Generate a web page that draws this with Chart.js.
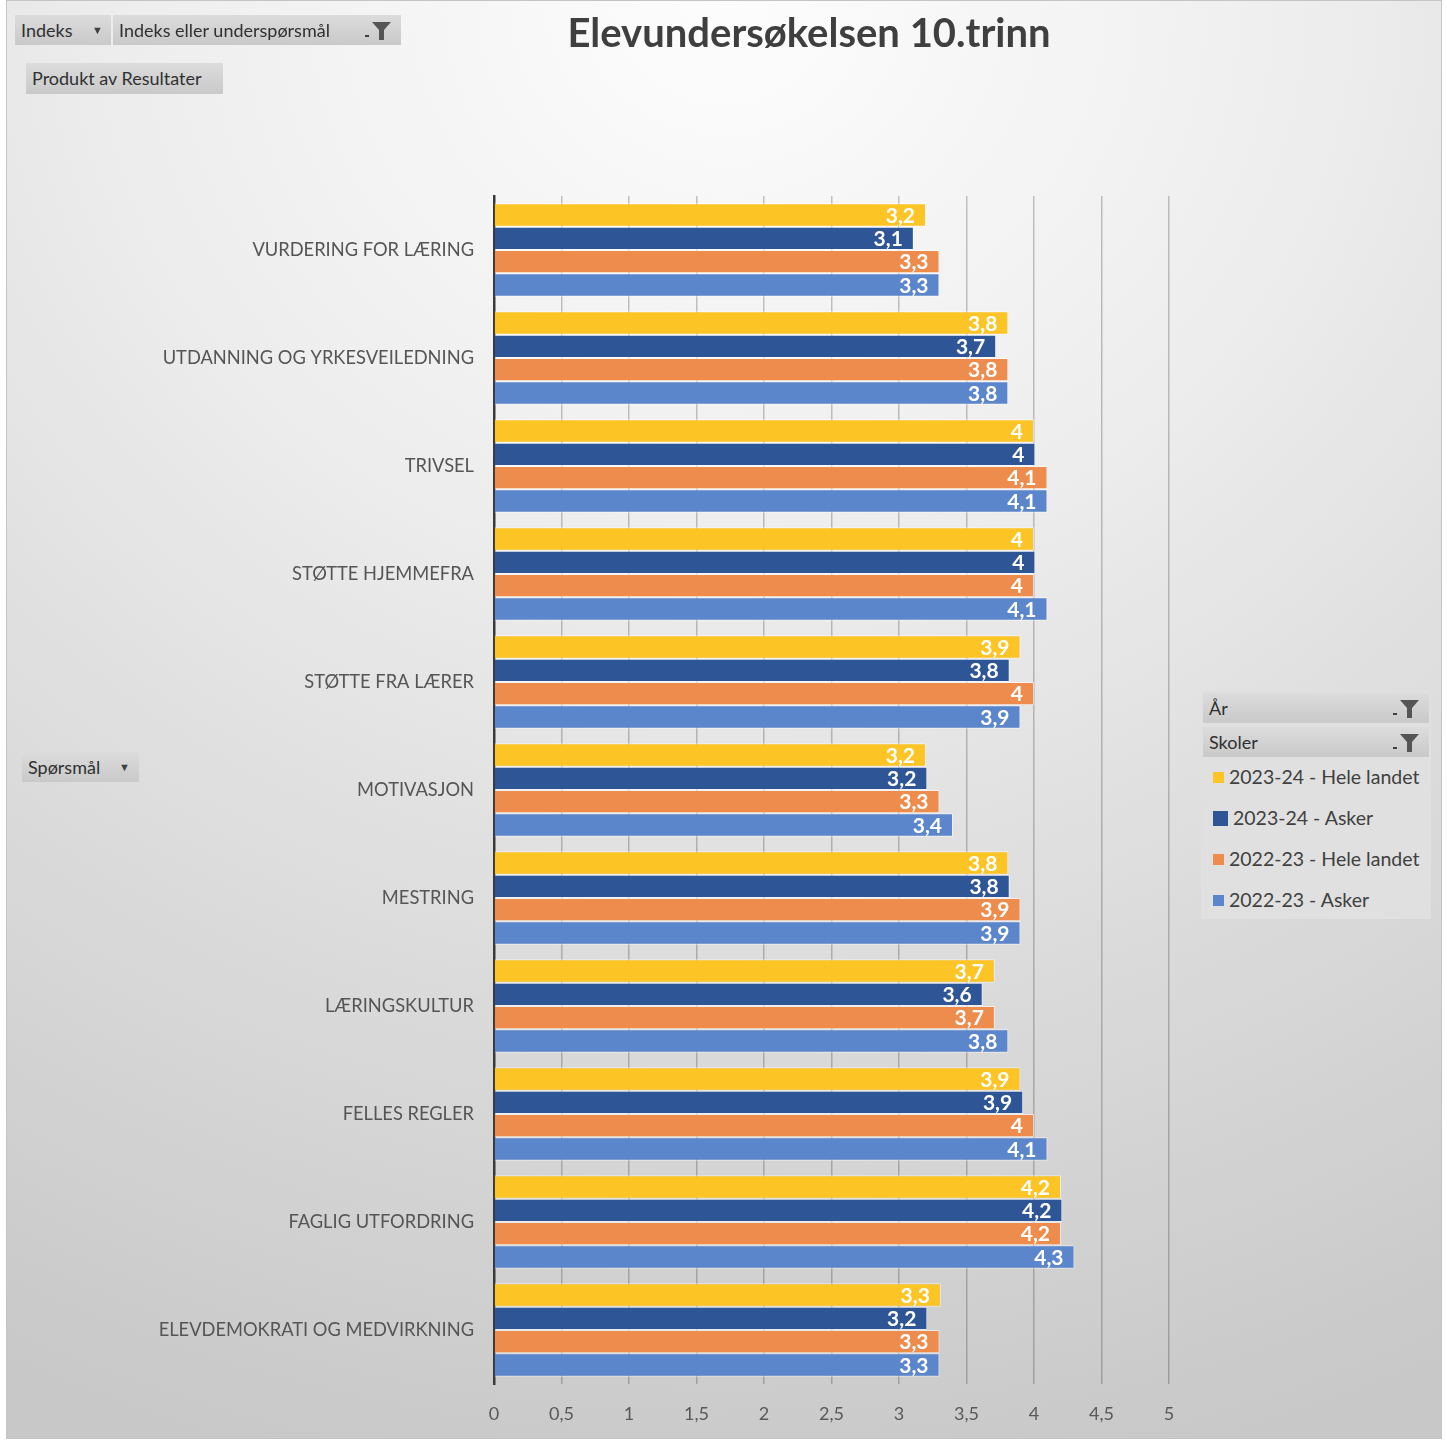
<!DOCTYPE html>
<html>
<head>
<meta charset="utf-8">
<script src="https://cdn.jsdelivr.net/npm/chart.js@4/dist/chart.umd.min.js"></script>
<style>
  html, body { margin: 0; padding: 0; background: #ffffff; }
  body { width: 1447px; height: 1441px; position: relative; overflow: hidden; font-family: Lato, "Open Sans", sans-serif; }
  #frame { position: absolute; left: 6px; top: 0px; width: 1434px; height: 1437px; border: 1px solid #c4c4c4;
    background: radial-gradient(ellipse 115% 105% at 50% 0%, #fdfdfd 0%, #eeeeee 35%, #dcdcdc 65%, #c8c8c8 100%); }
  #c { position: absolute; left: 0; top: 0; }
  .btn { position: absolute; height: 30px; line-height: 30px; font-size: 18px; color: #303030; padding-left: 6px;
    background: linear-gradient(#dcdcdc, #c9c9c9); box-sizing: border-box; white-space: nowrap; }
  .arrow { position: absolute; top: 0; font-size: 11px; color: #404040; }
  .funnel { position: absolute; top: 5px; }
  #legend { position: absolute; left: 1201px; top: 690px; width: 230px; height: 229px; background: #e0e0e0; box-sizing: border-box; }
  .litem { position: absolute; left: 12px; font-size: 19.5px; color: #404040; height: 24px; line-height: 24px; white-space: nowrap; }
  .lmark { display: inline-block; vertical-align: middle; margin-right: 5px; position: relative; top: -2px; }
</style>
</head>
<body>
<div id="frame"></div>
<canvas id="c" width="1447" height="1441"></canvas>

<div class="btn" style="left:15px;top:15px;width:96px;">Indeks<span class="arrow" style="left:77px;">&#9660;</span></div>
<div class="btn" style="left:113px;top:15px;width:288px;">Indeks eller underspørsmål
  <svg class="funnel" style="left:250px;" width="30" height="22" viewBox="0 0 30 22"><rect x="2" y="15" width="4" height="2" fill="#404040"/><path d="M9 2 H28 L21 10 V20 H16 V10 Z" fill="#555"/></svg></div>
<div class="btn" style="left:26px;top:63px;width:197px;height:31px;line-height:31px;">Produkt av Resultater</div>
<div class="btn" style="left:22px;top:752px;width:117px;">Spørsmål<span class="arrow" style="left:97px;">&#9660;</span></div>

<div id="legend">
  <div class="btn" style="left:2px;top:3px;width:226px;height:30px;">År
    <svg class="funnel" style="left:188px;" width="30" height="22" viewBox="0 0 30 22"><rect x="2" y="15" width="4" height="2" fill="#404040"/><path d="M9 2 H28 L21 10 V20 H16 V10 Z" fill="#555"/></svg></div>
  <div class="btn" style="left:2px;top:37px;width:226px;height:30px;">Skoler
    <svg class="funnel" style="left:188px;" width="30" height="22" viewBox="0 0 30 22"><rect x="2" y="15" width="4" height="2" fill="#404040"/><path d="M9 2 H28 L21 10 V20 H16 V10 Z" fill="#555"/></svg></div>
  <div id="litems"></div>
</div>

<script>
const categories = [
  "VURDERING FOR LÆRING",
  "UTDANNING OG YRKESVEILEDNING",
  "TRIVSEL",
  "STØTTE HJEMMEFRA",
  "STØTTE FRA LÆRER",
  "MOTIVASJON",
  "MESTRING",
  "LÆRINGSKULTUR",
  "FELLES REGLER",
  "FAGLIG UTFORDRING",
  "ELEVDEMOKRATI OG MEDVIRKNING"
];
const seriesNames = ["2023-24 - Hele landet", "2023-24 - Asker", "2022-23 - Hele landet", "2022-23 - Asker"];
const hele2324 = [3.20, 3.81, 4.00, 4.00, 3.90, 3.20, 3.81, 3.71, 3.90, 4.20, 3.31];
const asker2324 = [3.11, 3.72, 4.01, 4.01, 3.82, 3.21, 3.82, 3.62, 3.92, 4.21, 3.21];
const hele2223 = [3.30, 3.81, 4.10, 4.00, 4.00, 3.30, 3.90, 3.71, 4.00, 4.20, 3.30];
const asker2223 = [3.30, 3.81, 4.10, 4.10, 3.90, 3.40, 3.90, 3.81, 4.10, 4.30, 3.30];
const xTicks = [0, 0.5, 1, 1.5, 2, 2.5, 3, 3.5, 4, 4.5, 5];
const colors = ["#FCC425", "#2E5596", "#EE8C4E", "#5C86CB"];

const FONT = "Lato, 'Open Sans', sans-serif";
function fmt(v) {
  let s = (Math.round(v * 10) / 10).toFixed(1);
  if (s.endsWith(".0")) s = s.slice(0, -2);
  return s.replace(".", ",");
}

const labelPlugin = {
  id: 'barLabels',
  afterDatasetsDraw(chart) {
    const ctx = chart.ctx;
    ctx.save();
    ctx.font = "bold 21px " + FONT;
    ctx.fillStyle = "#ffffff";
    ctx.textAlign = "right";
    ctx.textBaseline = "middle";
    chart.data.datasets.forEach((ds, i) => {
      const meta = chart.getDatasetMeta(i);
      meta.data.forEach((bar, j) => {
        ctx.fillText(fmt(ds.data[j]), bar.x - 11, bar.y + 1);
      });
    });
    ctx.restore();
  }
};

const titlePlugin = {
  id: 'titleDraw',
  afterDraw(chart) {
    const ctx = chart.ctx;
    ctx.save();
    ctx.font = "bold 40px " + FONT;
    ctx.fillStyle = "#3f3f3f";
    ctx.textAlign = "center";
    ctx.textBaseline = "middle";
    ctx.fillText("Elevundersøkelsen 10.trinn", 809, 34);
    ctx.restore();
  }
};

const datasets = [hele2324, asker2324, hele2223, asker2223].map((d, i) => ({
  label: seriesNames[i],
  data: d,
  backgroundColor: colors[i],
  borderColor: "rgba(255,255,255,0.55)",
  borderWidth: 1,
  barPercentage: 1.0,
  categoryPercentage: 0.865
}));

new Chart(document.getElementById('c'), {
  type: 'bar',
  data: { labels: categories, datasets },
  plugins: [labelPlugin, titlePlugin],
  options: {
    indexAxis: 'y',
    responsive: false,
    animation: false,
    layout: { padding: { left: 0, right: 278, top: 196, bottom: 0 } },
    plugins: { legend: { display: false }, tooltip: { enabled: false }, title: { display: false } },
    scales: {
      x: {
        min: 0, max: 5,
        afterBuildTicks(scale) { scale.ticks = xTicks.map(v => ({ value: v })); },
        afterFit(scale) { scale.height = 57; },
        grid: { color: "rgba(0,0,0,0.22)", lineWidth: 1.5, drawTicks: false },
        border: { display: false },
        ticks: { color: "#595959", font: { family: FONT, size: 18 }, padding: 19,
                 callback: (v) => String(v).replace(".", ",") }
      },
      y: {
        afterFit(scale) { scale.width = 494; },
        grid: { display: false, drawTicks: false },
        border: { display: true, color: "#3a3a3a", width: 2.5 },
        ticks: { color: "#555555", font: { family: FONT, size: 18.3 }, padding: 20 }
      }
    }
  }
});

const litems = document.getElementById('litems');
const sizes = [11, 15, 11, 11];
seriesNames.forEach((n, i) => {
  const d = document.createElement('div');
  d.className = 'litem';
  d.style.top = (75 + i * 41) + 'px';
  d.innerHTML = '<span class="lmark" style="width:' + sizes[i] + 'px;height:' + sizes[i] + 'px;background:' + colors[i] + ';"></span>' + n;
  litems.appendChild(d);
});
</script>
</body>
</html>
